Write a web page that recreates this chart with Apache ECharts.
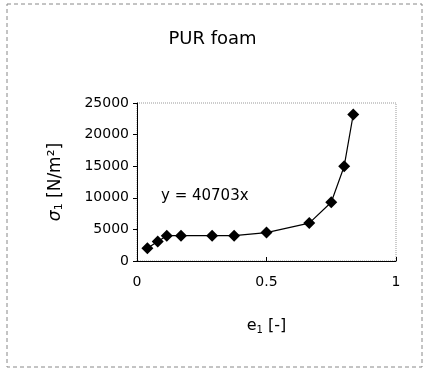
<!DOCTYPE html>
<html>
<head>
<meta charset="utf-8">
<script src="https://cdn.jsdelivr.net/npm/echarts@6/dist/echarts.min.js"></script>
<style>
html, body { margin: 0; padding: 0; background: #fff; }
#main { width: 425px; height: 372px; }
</style>
</head>
<body>
<div id="main"></div>
<script>
var strain = [0.04, 0.08, 0.115, 0.17, 0.29, 0.375, 0.5, 0.665, 0.75, 0.8, 0.835];
var stress = [2000, 3100, 4000, 4000, 4000, 4000, 4500, 6000, 9300, 15000, 23200];
var yTicks = [0, 5000, 10000, 15000, 20000, 25000];
var xTicks = [0, 0.5, 1];

var points = strain.map(function (x, i) { return [x, stress[i]]; });
var font = 'DejaVu Sans, Arial, sans-serif';

var myChart = echarts.init(document.getElementById('main'));
var option = {
    animation: false,
    backgroundColor: '#fff',
    title: {
        text: 'PUR foam',
        left: 'center',
        top: 25,
        textStyle: { fontFamily: font, fontSize: 18, fontWeight: 'normal', color: '#000' }
    },
    graphic: [
        {
            type: 'rect',
            shape: { x: 7, y: 4, width: 415, height: 363 },
            style: { fill: 'none', stroke: '#888', lineWidth: 1, lineDash: [4, 3] },
            silent: true
        },
        {
            type: 'text',
            left: 161,
            top: 189,
            style: { text: 'y = 40703x', fontFamily: font, fontSize: 15, fill: '#000' }
        }
    ],
    grid: {
        left: 137, right: 29, top: 103, bottom: 111,
        show: true,
        borderColor: '#999',
        borderWidth: 1,
        borderType: 'dotted'
    },
    xAxis: {
        type: 'value',
        min: 0, max: 1, interval: 0.5,
        name: '{b|e}{s|1}{b| [-]}',
        nameLocation: 'middle',
        nameGap: 56,
        nameTextStyle: {
            rich: {
                b: { fontFamily: font, fontSize: 16, color: '#000' },
                s: { fontFamily: font, fontSize: 10, color: '#000', verticalAlign: 'bottom', padding: [8, 0, 0, 0] }
            }
        },
        axisLine: { show: true, onZero: false, lineStyle: { color: '#000' } },
        axisTick: { show: true, inside: true, length: 4, lineStyle: { color: '#000' } },
        splitLine: { show: false },
        axisLabel: {
            margin: 14,
            fontFamily: font, fontSize: 14, color: '#000',
            formatter: function (v) { return xTicks.indexOf(v) >= 0 ? String(v) : ''; }
        }
    },
    yAxis: {
        type: 'value',
        min: 0, max: 25000, interval: 5000,
        name: '{g|σ}{s|1}{b| [N/m²]}',
        nameLocation: 'middle',
        nameRotate: 90,
        nameGap: 72,
        nameTextStyle: {
            rich: {
                g: { fontFamily: font, fontSize: 17, color: '#000', fontStyle: 'italic' },
                b: { fontFamily: font, fontSize: 17, color: '#000' },
                s: { fontFamily: font, fontSize: 11, color: '#000', verticalAlign: 'bottom', padding: [8, 0, 0, 0] }
            }
        },
        axisLine: { show: true, lineStyle: { color: '#000' } },
        axisTick: { show: true, length: 4, lineStyle: { color: '#000' } },
        splitLine: { show: false },
        axisLabel: {
            margin: 8,
            fontFamily: font, fontSize: 14, color: '#000',
            formatter: function (v) { return yTicks.indexOf(v) >= 0 ? String(v) : ''; }
        }
    },
    series: [
        {
            type: 'line',
            data: points,
            symbol: 'diamond',
            symbolSize: 12,
            itemStyle: { color: '#000' },
            lineStyle: { color: '#000', width: 1.2 }
        }
    ]
};
myChart.setOption(option);

window.onresize = function () {
    myChart.resize();
};
</script>
</body>
</html>
